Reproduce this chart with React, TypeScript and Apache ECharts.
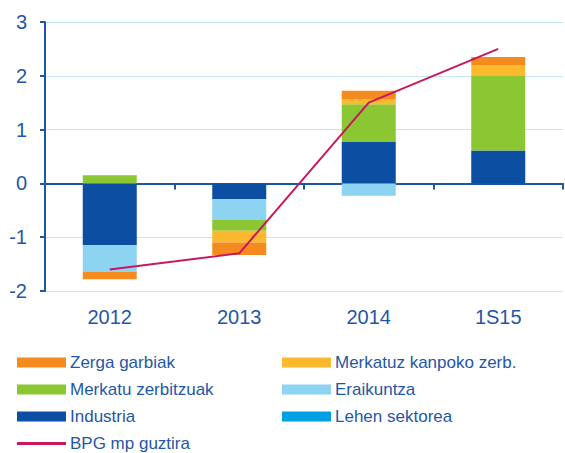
import React, { useEffect, useRef } from "react";
import * as echarts from "echarts";

const categories = ["2012", "2013", "2014", "1S15"];
const industria = [-1.15, -0.29, 0.77, 0.61];
const lehenSektorea = [0, 0, 0, 0];
const eraikuntza = [-0.49, -0.39, -0.23, 0];
const merkatuZerbitzuak = [0.15, -0.2, 0.7, 1.4];
const merkatuzKanpoko = [0, -0.22, 0.1, 0.19];
const zergaGarbiak = [-0.14, -0.23, 0.15, 0.15];
const bpg = [-1.6, -1.3, 1.5, 2.5];

const blue = "#1f57a8";
const font = "'Liberation Sans', Arial, sans-serif";

export default function App() {
  const ref = useRef<HTMLDivElement>(null);
  useEffect(() => {
    if (!ref.current) return;
    const chart = echarts.init(ref.current, null, { renderer: "svg" });
    const barSeries = (name: string, data: number[], color: string) => ({
      name,
      type: "bar",
      stack: "s",
      data,
      barWidth: 54,
      itemStyle: { color },
    });
    const legendItem = (name: string, left: number, top: number, h = 10) => ({
      data: [name],
      left,
      top,
      itemWidth: 49,
      itemHeight: h,
      itemGap: 0,
      icon: "rect",
      padding: 0,
      textStyle: { color: blue, fontSize: 17, fontFamily: font, padding: [0, 0, 0, -1] },
    });
    chart.setOption({
      animation: false,
      textStyle: { fontFamily: font },
      grid: { left: 45, right: 2, top: 22, bottom: 162 },
      legend: [
        legendItem("Zerga garbiak", 17, 354),
        legendItem("Merkatuz kanpoko zerb.", 282, 354),
        legendItem("Merkatu zerbitzuak", 17, 381),
        legendItem("Eraikuntza", 282, 381),
        legendItem("Industria", 17, 408),
        legendItem("Lehen sektorea", 282, 408),
        legendItem("BPG mp guztira", 17, 435, 3),
      ],
      xAxis: {
        type: "category",
        data: categories,
        axisLine: { onZero: true, lineStyle: { color: blue, width: 2 } },
        axisTick: { show: true, length: 6, lineStyle: { color: blue, width: 2 } },
        axisLabel: { color: blue, fontSize: 20, fontFamily: font, margin: 16 },
      },
      yAxis: {
        type: "value",
        min: -2,
        max: 3,
        interval: 1,
        axisLine: { show: true, lineStyle: { color: blue, width: 2 } },
        axisTick: { show: true, length: 5, lineStyle: { color: blue, width: 2 } },
        axisLabel: { color: blue, fontSize: 20, fontFamily: font, margin: 18 },
        splitLine: { lineStyle: { color: "#c4e7f7", width: 1 } },
      },
      series: [
        barSeries("Industria", industria, "#0b4ea2"),
        barSeries("Lehen sektorea", lehenSektorea, "#009fe3"),
        barSeries("Eraikuntza", eraikuntza, "#8dd3f2"),
        barSeries("Merkatu zerbitzuak", merkatuZerbitzuak, "#8ac732"),
        barSeries("Merkatuz kanpoko zerb.", merkatuzKanpoko, "#fdb92e"),
        barSeries("Zerga garbiak", zergaGarbiak, "#f58a1f"),
        {
          name: "BPG mp guztira",
          type: "line",
          data: bpg,
          symbol: "none",
          z: 5,
          lineStyle: { color: "#c8175e", width: 2 },
          itemStyle: { color: "#c8175e" },
        },
      ],
    });
    return () => chart.dispose();
  }, []);
  return (
    <div
      ref={ref}
      style={{ position: "absolute", left: 0, top: 0, width: 565, height: 453 }}
    />
  );
}
